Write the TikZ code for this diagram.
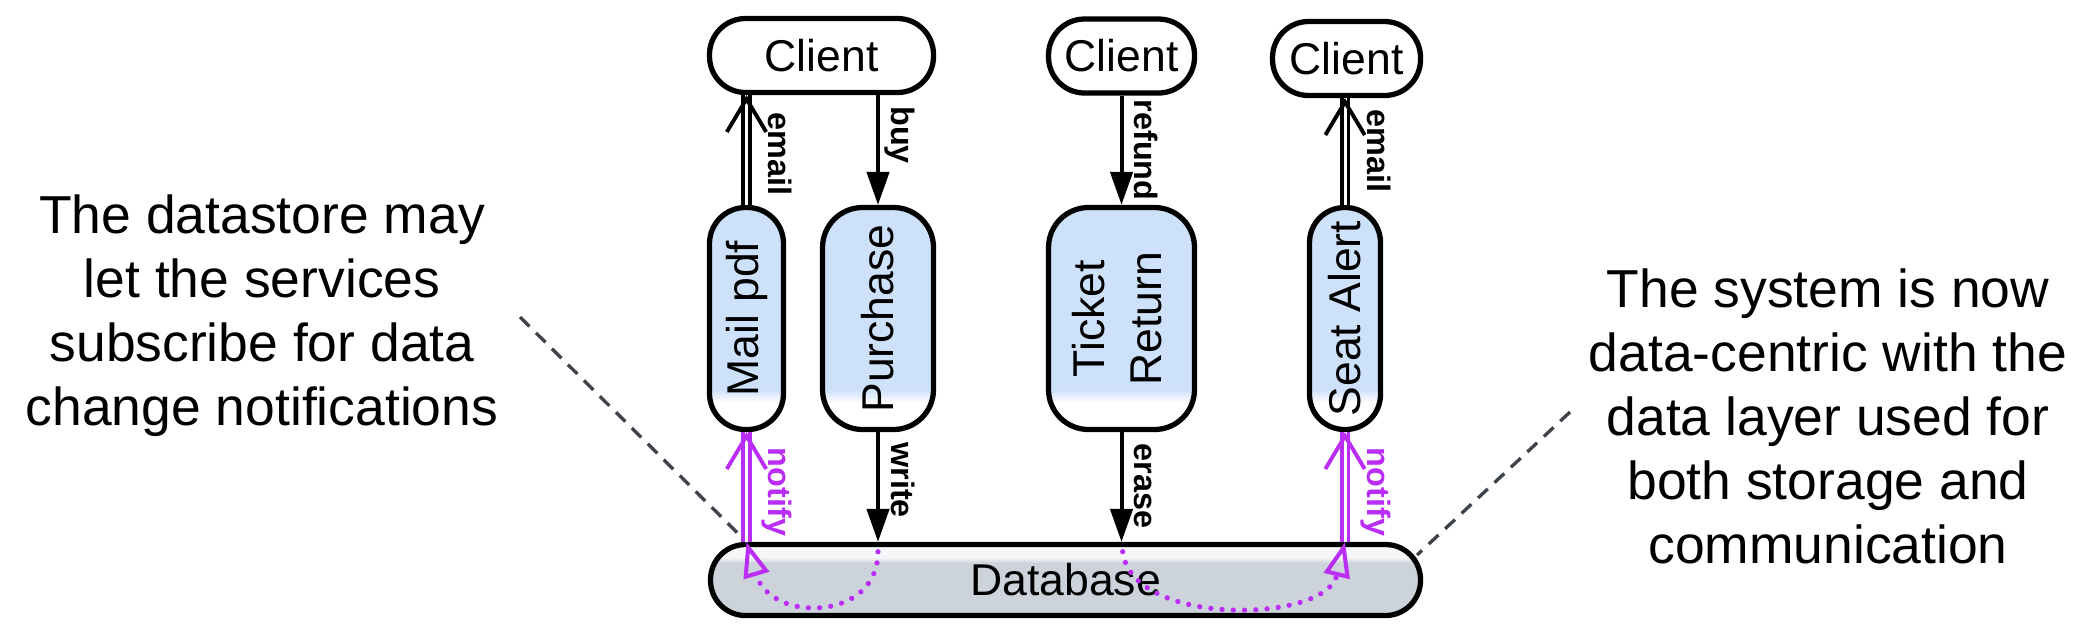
\documentclass[tikz,border=0pt]{standalone}
\usepackage{fontspec}
\setmainfont{Liberation Sans}
\usepackage{graphicx}
\usetikzlibrary{arrows.meta,calc,decorations.markings}
\newdimen\pxu \pxu=0.01cm
\definecolor{svcblue}{RGB}{206,225,251}
\definecolor{dbgray}{RGB}{205,211,219}
\definecolor{dblight}{RGB}{246,247,249}
\definecolor{npurple}{RGB}{185,45,245}
\definecolor{dgray}{RGB}{62,66,74}
\pgfdeclareverticalshading{svcshade}{100bp}{color(0bp)=(white); color(31bp)=(white); color(34bp)=(svcblue); color(100bp)=(svcblue)}
\pgfdeclareverticalshading{dbshade}{100bp}{color(0bp)=(dbgray); color(62bp)=(dbgray); color(66bp)=(dblight); color(100bp)=(dblight)}
\newcommand\nodefont{\fontsize{12.66}{16.2}\selectfont}
\newcommand\labfont{\fontsize{9.2}{11}\selectfont\bfseries}
\newcommand\annofont{\fontsize{15.2}{18.2}\selectfont}
\begin{document}
\begin{tikzpicture}[x=0.01cm,y=-0.01cm,
  box/.style={draw=black, line width=1.5pt, inner sep=0pt, font=\nodefont, align=center},
  client/.style={box, fill=white, minimum height=74\pxu, rounded corners=36\pxu},
  svc/.style={box, shading=svcshade, minimum height=222\pxu},
  dbbox/.style={box, shading=dbshade, minimum height=71\pxu, rounded corners=35\pxu},
  sarr/.style={draw=black, line width=1.15pt, -{Triangle[length=9.4pt,width=6.3pt]}},
  dbl/.style={line width=1.1pt, double=white, double distance=0.85pt},
  chev/.style={decorate, decoration={markings, mark=at position 1 with {\arrow[line width=1.1pt,#1]{Straight Barb[length=9.4pt,width=11.2pt]}}}},
  chev/.default=black,
  elab/.style={font=\labfont, rotate=-90, inner sep=0pt, anchor=base},
  anno/.style={font=\annofont, align=center, inner sep=0pt, anchor=north},
  dline/.style={draw=dgray, line width=0.95pt, dash pattern=on 3.8pt off 2.6pt},
  dotarr/.style={draw=npurple, line width=1.5pt, line cap=round, dash pattern=on 0pt off 3.2pt, shorten <=2.8pt, -{Triangle[open,length=10pt,width=7.4pt,line width=1.15pt]}}
]
\useasboundingbox (0,0) rectangle (2098,641);

% annotations
\node[anno] (tl) at (262,194) {The datastore may\\let the services\\subscribe for data\\change notifications};
\node[anno] (tr) at (1828,268) {The system is now\\data-centric with the\\data layer used for\\both storage and\\communication};

% clients
\node[client, minimum width=224\pxu] (c1) at (821.5,55.5) {Client};
\node[client, minimum width=146\pxu] (c2) at (1121.5,56) {Client};
\node[client, minimum width=148\pxu] (c3) at (1346.5,58.5) {Client};

% services
\node[svc, minimum width=74\pxu, rounded corners=36\pxu] (mail) at (746.5,318.5) {\rotatebox{90}{Mail pdf}};
\node[svc, minimum width=111\pxu, rounded corners=40\pxu] (pur) at (878,318.5) {\rotatebox{90}{Purchase}};
\node[svc, minimum width=146\pxu, rounded corners=40\pxu] (tick) at (1121.5,318.5) {\rotatebox{90}{\begin{tabular}{@{}c@{}}Ticket\\Return\end{tabular}}};
\node[svc, minimum width=71\pxu, rounded corners=35\pxu] (seat) at (1345,318.5) {\rotatebox{90}{Seat Alert}};

% database
\node[dbbox, minimum width=710\pxu] (db) at (1065.5,580) {Database};

% helper coordinates
\coordinate (em1) at (mail.north |- c1.south);
\coordinate (by) at (pur.north |- c1.south);
\coordinate (em2) at (seat.north |- c3.south);
\coordinate (nt1) at (mail.south |- db.north);
\coordinate (wr) at (pur.south |- db.north);
\coordinate (er) at (tick.south |- db.north);
\coordinate (nt2) at (seat.south |- db.north);
\coordinate (ldash) at (520,317);
\coordinate (rdash) at (1570,412);
\coordinate (rdbend) at (1417,555);

% dashed pointers
\draw[dline] (ldash) -- (nt1);
\draw[dline] (rdash) -- (rdbend);

% client <-> service
\draw[dbl] (mail.north) -- (em1);
\path[chev] (mail.north) -- (em1);
\draw[sarr] (by) -- (pur.north);
\draw[sarr] (c2.south) -- (tick.north);
\draw[dbl] (seat.north) -- (em2);
\path[chev] (seat.north) -- (em2);

% service <-> database
\draw[sarr] (pur.south) -- (wr);
\draw[sarr] (tick.south) -- (er);
\draw[dbl, draw=npurple] (nt1) -- (mail.south);
\path[chev=npurple] (nt1) -- (mail.south);
\draw[dbl, draw=npurple] (nt2) -- (seat.south);
\path[chev=npurple] (nt2) -- (seat.south);

% labels
\node[elab] (lem1) at (768,154) {email};
\node[elab] (lbuy) at (891,135) {buy};
\node[elab] (lref) at (1134,150) {refund};
\node[elab] (lem2) at (1367,151) {email};
\node[elab] (lwr) at (891,480) {write};
\node[elab] (ler) at (1134,486) {erase};
\node[elab, text=npurple] (lnt1) at (768,492) {notify};
\node[elab, text=npurple] (lnt2) at (1367,492) {notify};

% notification curves
\draw[dotarr] (wr) .. controls +(0,80) and +(24,81) .. (nt1);
\draw[dotarr] (er) .. controls +(10,85) and +(-20,82) .. (nt2);
\end{tikzpicture}
\end{document}
